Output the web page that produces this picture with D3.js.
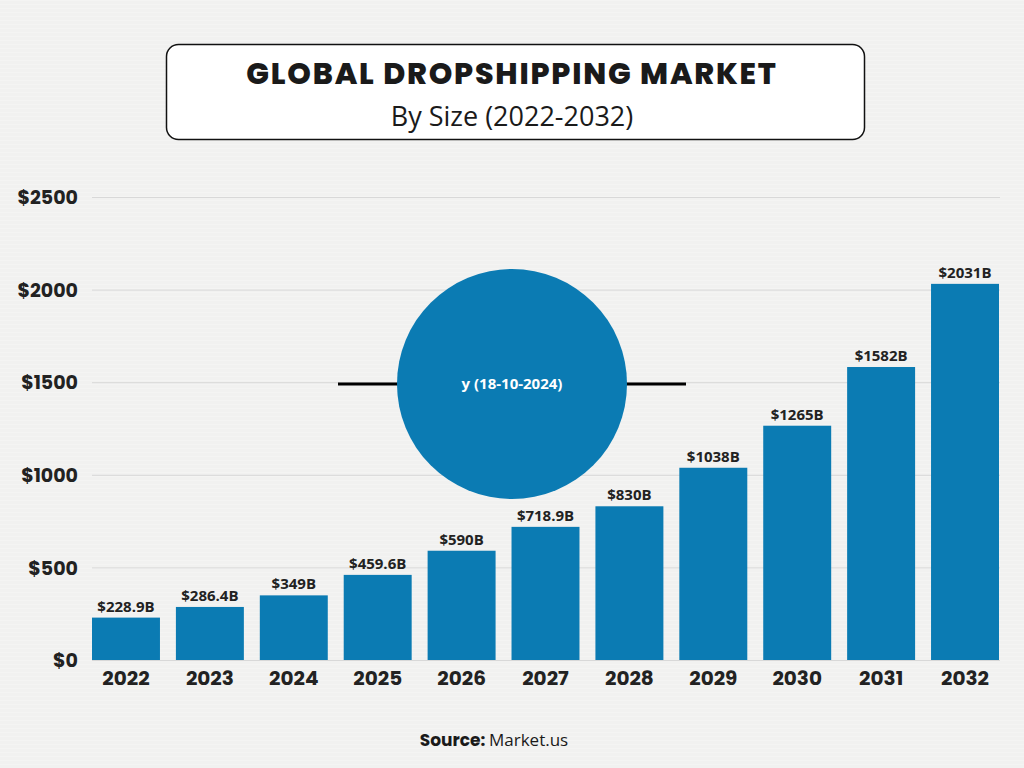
<!DOCTYPE html>
<html><head><meta charset="utf-8">
<script src="https://cdn.jsdelivr.net/npm/d3@7"></script>
<style>
html,body{margin:0;padding:0;background:#f1f1f0;}
svg{display:block;}
</style></head>
<body>
<svg id="c" width="1024" height="768"></svg>
<script>
const years = ["2022","2023","2024","2025","2026","2027","2028","2029","2030","2031","2032"];
const values = [228.9,286.4,349,459.6,590,718.9,830,1038,1265,1582,2031];
const valueLabels = ["$228.9B","$286.4B","$349B","$459.6B","$590B","$718.9B","$830B","$1038B","$1265B","$1582B","$2031B"];
const yTicks = [0,500,1000,1500,2000,2500];
const title = "GLOBAL DROPSHIPPING MARKET";
const subtitle = "By Size (2022-2032)";
const badgeText = "y (18-10-2024)";

const svg = d3.select("#c");
const W = 1024, H = 768;
const barColor = "#0b7bb3";
const fontBold = "Poppins, Montserrat, 'Open Sans', 'Noto Sans', sans-serif";
const fontText = "'Open Sans', Roboto, sans-serif";

// background
svg.append("rect").attr("width",W).attr("height",H).attr("fill","#f1f1f0");
const tex = svg.append("g");
for (let i=0;i<H;i+=4){
  tex.append("line").attr("x1",0).attr("x2",W).attr("y1",i+0.5).attr("y2",i+0.5)
    .attr("stroke","#f4f4f3").attr("stroke-width",1);
}

const x = d3.scaleBand().domain(years).range([92,999]).paddingInner(0.19).paddingOuter(0);
const y = d3.scaleLinear().domain([0,2500]).range([660,197]);

// grid
const grid = svg.append("g");
grid.selectAll("line").data(yTicks).join("line")
  .attr("x1",92).attr("x2",1000)
  .attr("y1",d=>y(d)+0.5).attr("y2",d=>y(d)+0.5)
  .attr("stroke","#d8d8d8").attr("stroke-width",1);

// y axis
const yAxis = svg.append("g").attr("transform","translate(78,0)")
  .call(d3.axisLeft(y).tickValues(yTicks).tickSize(0).tickPadding(0).tickFormat(d=>"$"+d));
yAxis.select(".domain").remove();
yAxis.selectAll("text").attr("font-family",fontBold).attr("font-weight",700)
  .attr("font-size",19).attr("fill","#222").attr("dy","0.35em");

// bars
svg.append("g").selectAll("rect").data(values).join("rect")
  .attr("x",(d,i)=>x(years[i])).attr("width",x.bandwidth())
  .attr("y",d=>y(d)).attr("height",d=>y(0)-y(d))
  .attr("fill",barColor);

// value labels
svg.append("g").selectAll("text").data(values).join("text")
  .attr("x",(d,i)=>x(years[i])+x.bandwidth()/2)
  .attr("y",d=>y(d)-6)
  .attr("text-anchor","middle")
  .attr("font-family",fontText).attr("font-weight",700).attr("font-size",15)
  .attr("fill","#222")
  .text((d,i)=>valueLabels[i]);

// x axis
const xAxis = svg.append("g").attr("transform","translate(0,660)")
  .call(d3.axisBottom(x).tickSize(0).tickPadding(11));
xAxis.select(".domain").remove();
xAxis.selectAll("text").attr("font-family",fontBold).attr("font-weight",700)
  .attr("font-size",20).attr("fill","#222").attr("dy","0.71em");

// badge
const bx = 512, by = 384;
svg.append("line").attr("x1",338).attr("x2",686).attr("y1",by).attr("y2",by)
  .attr("stroke","#000").attr("stroke-width",3);
svg.append("circle").attr("cx",bx).attr("cy",by).attr("r",115).attr("fill",barColor);
svg.append("text").attr("x",bx).attr("y",by).attr("dy","0.35em")
  .attr("text-anchor","middle").attr("font-family",fontText).attr("font-weight",700)
  .attr("font-size",15).attr("fill","#fff").text(badgeText);

// title box
svg.append("rect").attr("x",166.5).attr("y",44.5).attr("width",698).attr("height",95)
  .attr("rx",12).attr("fill","#fff").attr("stroke","#111").attr("stroke-width",1.5);
svg.append("text").attr("x",512).attr("y",84).attr("text-anchor","middle")
  .attr("font-family",fontBold).attr("font-weight",800).attr("font-size",30)
  .attr("letter-spacing",1.8).attr("fill","#1a1a1a").text(title);
svg.append("text").attr("x",512).attr("y",126).attr("text-anchor","middle")
  .attr("font-family",fontText).attr("font-weight",400).attr("font-size",27)
  .attr("fill","#1a1a1a").text(subtitle);

// source
const src = svg.append("text").attr("x",494).attr("y",746).attr("text-anchor","middle")
  .attr("font-size",17).attr("fill","#1a1a1a");
src.append("tspan").attr("font-family",fontBold).attr("font-weight",700).text("Source: ");
src.append("tspan").attr("font-family",fontText).attr("font-weight",400).text("Market.us");
</script>
</body></html>
